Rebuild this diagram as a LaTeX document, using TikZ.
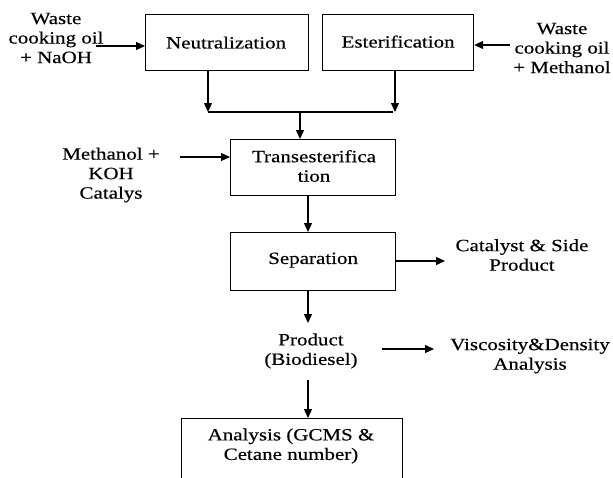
\documentclass[tikz,border=0pt]{standalone}
\usepackage{fontspec}
\setmainfont[FakeStretch=1.22,FakeBold=0.4]{Liberation Serif}
\usetikzlibrary{arrows.meta}
\begin{document}
\begin{tikzpicture}[x=1pt,y=-1pt,
  box/.style={draw, line width=1.2pt, inner sep=0pt, anchor=north west},
  lbl/.style={align=center, inner sep=0pt, font=\fontsize{17.2}{19.5}\selectfont},
  arr/.style={line width=1.2pt, -{Triangle[length=9pt,width=8pt]}},
  ln/.style={line width=1.2pt}]
\useasboundingbox (0,0) rectangle (613,477);
% boxes
\node[box, minimum width=163pt, minimum height=56pt] (neu) at (145,14) {};
\node[lbl] at ([xshift=-1pt]neu.center) {Neutralization};
\node[box, minimum width=151pt, minimum height=56pt] (est) at (322,14) {};
\node[lbl] at ([yshift=1pt]est.center) {Esterification};
\node[box, minimum width=165pt, minimum height=56pt] (tra) at (230,139) {};
\node[lbl] (tratx) at (314,166) {Transesterifica\\tion};
\node[box, minimum width=165pt, minimum height=58pt] (sep) at (230,232) {};
\node[lbl] at ([yshift=1.5pt]sep.center) {Separation};
\node[box, minimum width=221pt, minimum height=80pt] (ana) at (181,418) {};
\node[lbl] at (291,446) {Analysis (GCMS \&\\Cetane number)};
% free texts
\node[lbl] (wl) at (56,38) {Waste\\cooking oil\\+ NaOH};
\node[lbl] (wr) at (562,48) {Waste\\cooking oil\\+ Methanol};
\node[lbl] (mk) at (111,175) {Methanol +\\KOH\\Catalys};
\node[lbl] (cat) at (522,255) {Catalyst \& Side\\Product};
\node[lbl] (pro) at (311,351) {Product\\(Biodiesel)};
\node[lbl] (vis) at (530,356) {Viscosity\&Density\\Analysis};
% helper coordinates
\coordinate (j1) at (208,112);
\coordinate (j2) at (393,112);
\coordinate (jm) at (300,112);
% connectors
\draw[arr] (96,46) -- (neu.west |- 0,46);
\draw[arr] (510,45) -- (est.east |- 0,45);
\draw[arr] (208,70) -- (j1);
\draw[arr] (395,70) -- (395,112);
\draw[ln] (j1) -- (j2);
\draw[arr] (jm) -- (tra.north -| jm);
\draw[arr] (180,157) -- (tra.west |- 0,157);
\draw[arr] (308,195) -- (sep.north -| 308,0);
\draw[arr] (sep.east |- 0,261) -- (445,261);
\draw[arr] (308,290) -- (308,323);
\draw[arr] (382,349) -- (434,349);
\draw[arr] (308,380) -- (ana.north -| 308,0);
\end{tikzpicture}
\end{document}
